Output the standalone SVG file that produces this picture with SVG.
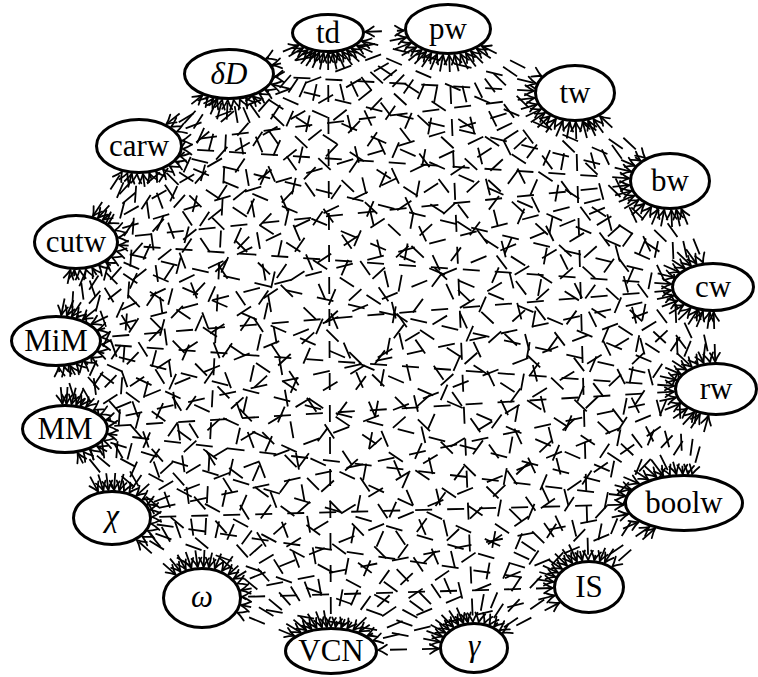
<svg xmlns="http://www.w3.org/2000/svg" width="758" height="677" viewBox="0 0 758 677">
<defs>
<marker id="a" viewBox="-12 -7 14 14" refX="0" refY="0" markerWidth="14" markerHeight="14" markerUnits="userSpaceOnUse" orient="auto-start-reverse" overflow="visible">
<path d="M-9,-5 Q-3.8,-1.3 0,0 Q-3.8,1.3 -9,5" fill="none" stroke="#000" stroke-width="1.8" stroke-linecap="round" stroke-linejoin="round"/>
</marker>
<style>
.e line{stroke:#000;stroke-width:1.8;stroke-dasharray:17 15;fill:none;marker-start:url(#a);marker-end:url(#a)}
.n ellipse{fill:#fff;stroke:#000;stroke-width:3}
.n text{font-family:'Liberation Serif','DejaVu Serif',serif;font-size:31px;text-anchor:middle;fill:#000}
.n text.m{font-style:italic}
</style>
</defs>
<rect width="758" height="677" fill="#fff"/>
<g id="connectors" class="e">
<line x1="364.9" y1="31.8" x2="404.1" y2="30.5"/>
<line x1="361.7" y1="41.2" x2="536.2" y2="83.6"/>
<line x1="356.9" y1="45.5" x2="635.0" y2="165.9"/>
<line x1="351.4" y1="48.5" x2="684.9" y2="268.4"/>
<line x1="346.8" y1="50.2" x2="691.9" y2="366.9"/>
<line x1="342.0" y1="51.5" x2="663.4" y2="475.8"/>
<line x1="337.1" y1="52.4" x2="577.0" y2="561.5"/>
<line x1="332.7" y1="52.8" x2="467.9" y2="622.4"/>
<line x1="328.1" y1="53" x2="330.9" y2="627"/>
<line x1="323.6" y1="52.9" x2="208.8" y2="567.5"/>
<line x1="319.3" y1="52.4" x2="123.9" y2="491.3"/>
<line x1="315.5" y1="51.8" x2="80.5" y2="405.6"/>
<line x1="312.1" y1="51.0" x2="76.5" y2="317.7"/>
<line x1="307.8" y1="49.8" x2="102.6" y2="220.0"/>
<line x1="303.2" y1="47.8" x2="171.1" y2="126.8"/>
<line x1="298.6" y1="45.2" x2="266.1" y2="58.6"/>
<line x1="481.5" y1="45.9" x2="541.6" y2="76.2"/>
<line x1="476.7" y1="48.7" x2="640.5" y2="160.8"/>
<line x1="470.8" y1="51.2" x2="691.1" y2="265.7"/>
<line x1="465.7" y1="52.8" x2="697.9" y2="364.6"/>
<line x1="460.4" y1="53.9" x2="670.0" y2="474.8"/>
<line x1="454.5" y1="54.7" x2="582.3" y2="560.5"/>
<line x1="449.1" y1="55.0" x2="472.9" y2="622.0"/>
<line x1="443.1" y1="54.8" x2="335.5" y2="627.1"/>
<line x1="437.1" y1="54.2" x2="214.7" y2="568.6"/>
<line x1="431.4" y1="53.1" x2="129.3" y2="492.8"/>
<line x1="426.3" y1="51.6" x2="86.0" y2="407.0"/>
<line x1="421.8" y1="49.9" x2="82.6" y2="319.8"/>
<line x1="416.4" y1="47.1" x2="108.3" y2="223.5"/>
<line x1="411.0" y1="43.0" x2="176.8" y2="131.7"/>
<line x1="406.4" y1="37.5" x2="272.2" y2="65.1"/>
<line x1="599.9" y1="116.0" x2="645.1" y2="158.0"/>
<line x1="593.4" y1="118.9" x2="696.6" y2="264.0"/>
<line x1="588.1" y1="120.5" x2="703.7" y2="363.2"/>
<line x1="582.6" y1="121.5" x2="676.4" y2="474.2"/>
<line x1="575.8" y1="122.0" x2="588.2" y2="560.0"/>
<line x1="569.8" y1="121.8" x2="478.7" y2="622.2"/>
<line x1="562.9" y1="120.7" x2="341.2" y2="627.6"/>
<line x1="556.0" y1="118.7" x2="221.9" y2="571.1"/>
<line x1="550.0" y1="116.0" x2="136.3" y2="495.7"/>
<line x1="545.0" y1="112.8" x2="93.7" y2="410.1"/>
<line x1="541.0" y1="109.2" x2="91.1" y2="324.2"/>
<line x1="537.2" y1="104.3" x2="115.1" y2="230.3"/>
<line x1="534.6" y1="97.9" x2="182.2" y2="140.7"/>
<line x1="534.1" y1="90.8" x2="274.8" y2="76.5"/>
<line x1="681.3" y1="208.9" x2="703.1" y2="262.7"/>
<line x1="676.3" y1="209.7" x2="710.1" y2="362.3"/>
<line x1="671.3" y1="210.0" x2="682.7" y2="474.0"/>
<line x1="664.3" y1="209.7" x2="594.3" y2="560.3"/>
<line x1="658.3" y1="208.8" x2="484.4" y2="623.2"/>
<line x1="651.4" y1="206.8" x2="347.2" y2="628.5"/>
<line x1="644.5" y1="203.7" x2="228.3" y2="574.6"/>
<line x1="638.8" y1="199.8" x2="142.3" y2="499.7"/>
<line x1="634.5" y1="195.5" x2="100.7" y2="414.4"/>
<line x1="631.5" y1="191.0" x2="97.8" y2="330.1"/>
<line x1="629.4" y1="185.2" x2="118.5" y2="237.6"/>
<line x1="629.2" y1="178.3" x2="182.8" y2="148.9"/>
<line x1="631.2" y1="171.6" x2="271.3" y2="84.3"/>
<line x1="713.7" y1="312.0" x2="715.2" y2="362.0"/>
<line x1="709.7" y1="311.9" x2="687.9" y2="474.1"/>
<line x1="703.0" y1="311.3" x2="599.7" y2="561.2"/>
<line x1="697.6" y1="310.3" x2="489.4" y2="624.7"/>
<line x1="690.7" y1="308.2" x2="353.2" y2="629.9"/>
<line x1="683.6" y1="304.9" x2="233.5" y2="578.9"/>
<line x1="677.7" y1="300.6" x2="147.1" y2="504.5"/>
<line x1="673.6" y1="295.6" x2="106.1" y2="420.0"/>
<line x1="671.4" y1="290.4" x2="101.5" y2="337.3"/>
<line x1="671.3" y1="284.1" x2="118.7" y2="245.0"/>
<line x1="674.2" y1="277.5" x2="180.0" y2="156.1"/>
<line x1="679.2" y1="272.1" x2="265.3" y2="90.0"/>
<line x1="708.5" y1="415.6" x2="692.1" y2="474.3"/>
<line x1="700.0" y1="414.0" x2="604.6" y2="562.7"/>
<line x1="694.4" y1="412.1" x2="494.0" y2="626.6"/>
<line x1="687.2" y1="408.6" x2="359.2" y2="631.8"/>
<line x1="680.5" y1="403.4" x2="237.4" y2="583.6"/>
<line x1="676.1" y1="397.5" x2="150.3" y2="509.8"/>
<line x1="674.2" y1="391.6" x2="108.7" y2="426.3"/>
<line x1="674.3" y1="386.0" x2="101.6" y2="344.3"/>
<line x1="676.5" y1="379.9" x2="116.6" y2="251.3"/>
<line x1="680.9" y1="374.2" x2="175.7" y2="161.5"/>
<line x1="686.4" y1="369.9" x2="259.3" y2="93.6"/>
<line x1="655.2" y1="528.4" x2="612.3" y2="566.4"/>
<line x1="649.6" y1="526.8" x2="499.6" y2="630.3"/>
<line x1="638.7" y1="522.0" x2="367.3" y2="635.8"/>
<line x1="628.4" y1="514.0" x2="240.8" y2="590.4"/>
<line x1="624.1" y1="504.6" x2="152.0" y2="517.0"/>
<line x1="625.8" y1="496.0" x2="108.1" y2="434.1"/>
<line x1="631.1" y1="489.3" x2="97.8" y2="351.8"/>
<line x1="639.1" y1="483.7" x2="111.9" y2="257.4"/>
<line x1="648.4" y1="479.7" x2="169.7" y2="166.1"/>
<line x1="656.6" y1="477.2" x2="252.7" y2="96.3"/>
<line x1="559.6" y1="602.6" x2="502.5" y2="632.9"/>
<line x1="554.8" y1="595.5" x2="373.3" y2="640.5"/>
<line x1="553.0" y1="588.0" x2="242.0" y2="596.9"/>
<line x1="553.6" y1="581.9" x2="151.2" y2="523.7"/>
<line x1="555.6" y1="576.9" x2="103.9" y2="440.7"/>
<line x1="558.3" y1="572.8" x2="91.6" y2="357.4"/>
<line x1="562.2" y1="569.0" x2="105.9" y2="262.1"/>
<line x1="567.1" y1="565.6" x2="163.0" y2="169.5"/>
<line x1="572.2" y1="563.1" x2="246.0" y2="98.2"/>
<line x1="439.0" y1="648.7" x2="378.0" y2="650.0"/>
<line x1="440.0" y1="641.8" x2="240.9" y2="605.2"/>
<line x1="442.5" y1="636.7" x2="147.6" y2="530.8"/>
<line x1="445.6" y1="632.8" x2="97.0" y2="446.1"/>
<line x1="449.1" y1="629.7" x2="84.1" y2="361.6"/>
<line x1="453.4" y1="627.0" x2="99.1" y2="265.6"/>
<line x1="458.5" y1="624.7" x2="156.2" y2="171.8"/>
<line x1="463.4" y1="623.2" x2="239.8" y2="99.3"/>
<line x1="294.4" y1="636.0" x2="237.3" y2="612.5"/>
<line x1="300.8" y1="632.6" x2="142.2" y2="536.4"/>
<line x1="306.5" y1="630.5" x2="89.8" y2="449.7"/>
<line x1="311.6" y1="629.1" x2="76.6" y2="364.2"/>
<line x1="316.7" y1="628.1" x2="92.2" y2="267.9"/>
<line x1="322.0" y1="627.4" x2="149.3" y2="173.2"/>
<line x1="326.8" y1="627.1" x2="233.6" y2="99.9"/>
<line x1="175.7" y1="574.6" x2="136.8" y2="540.0"/>
<line x1="180.7" y1="571.8" x2="83.4" y2="451.7"/>
<line x1="185.9" y1="569.6" x2="70.1" y2="365.8"/>
<line x1="191.4" y1="568.1" x2="85.7" y2="269.3"/>
<line x1="197.7" y1="567.2" x2="142.9" y2="173.9"/>
<line x1="203.6" y1="567.0" x2="227.7" y2="100.0"/>
<line x1="98.1" y1="491.7" x2="77.6" y2="453.0"/>
<line x1="103.4" y1="490.7" x2="64.1" y2="366.6"/>
<line x1="108.4" y1="490.1" x2="79.6" y2="269.9"/>
<line x1="114.0" y1="490.0" x2="137.0" y2="174.0"/>
<line x1="119.3" y1="490.5" x2="222.2" y2="99.7"/>
<line x1="62.4" y1="404.0" x2="58.7" y2="367.0"/>
<line x1="66.5" y1="404.0" x2="74.4" y2="270.0"/>
<line x1="71.5" y1="404.3" x2="131.8" y2="173.6"/>
<line x1="76.2" y1="404.8" x2="217.4" y2="99.2"/>
<line x1="61.2" y1="315.2" x2="70.4" y2="269.8"/>
<line x1="66.8" y1="315.7" x2="127.5" y2="173.0"/>
<line x1="71.8" y1="316.6" x2="213.2" y2="98.4"/>
<line x1="92.9" y1="216.3" x2="122.0" y2="171.8"/>
<line x1="97.9" y1="217.9" x2="208.0" y2="97.1"/>
<line x1="166.4" y1="124.1" x2="202.5" y2="95.2"/>
</g>
<g id="nodes" class="n" font-family="Liberation Serif, DejaVu Serif, serif">
<g id="td"><ellipse cx="328" cy="33" rx="35.5" ry="18.5"/><text x="328" y="43">td</text></g>
<g id="pw"><ellipse cx="448" cy="29" rx="42.5" ry="24.5"/><text x="448" y="39">pw</text></g>
<g id="tw"><ellipse cx="575" cy="93" rx="39.5" ry="27.5"/><text x="575" y="103">tw</text></g>
<g id="bw"><ellipse cx="670" cy="181" rx="39.5" ry="27.5"/><text x="670" y="191">bw</text></g>
<g id="cw"><ellipse cx="713" cy="287" rx="40.5" ry="23.5"/><text x="713" y="297">cw</text></g>
<g id="rw"><ellipse cx="716" cy="389" rx="40.5" ry="25.5"/><text x="716" y="399">rw</text></g>
<g id="boolw"><ellipse cx="684" cy="503" rx="58.5" ry="27.5"/><text x="684" y="513">boolw</text></g>
<g id="IS"><ellipse cx="589" cy="587" rx="34.5" ry="25.5"/><text x="589" y="597">IS</text></g>
<g id="gamma"><ellipse cx="474" cy="648" rx="33.5" ry="24.5"/><text class="m" x="474" y="656">γ</text></g>
<g id="VCN"><ellipse cx="331" cy="651" rx="45.5" ry="22.5"/><text x="331" y="661">VCN</text></g>
<g id="omega"><ellipse cx="202" cy="598" rx="38.5" ry="29.5"/><text class="m" x="202" y="607">ω</text></g>
<g id="chi"><ellipse cx="112" cy="518" rx="38.5" ry="26.5"/><text class="m" x="112" y="526">χ</text></g>
<g id="MM"><ellipse cx="65" cy="429" rx="42.5" ry="23.5"/><text x="65" y="439">MM</text></g>
<g id="MiM"><ellipse cx="56" cy="341" rx="44.5" ry="24.5"/><text x="56" y="351">MiM</text></g>
<g id="cutw"><ellipse cx="76" cy="242" rx="41.5" ry="26.5"/><text x="76" y="252">cutw</text></g>
<g id="carw"><ellipse cx="139" cy="146" rx="42.5" ry="26.5"/><text x="139" y="156">carw</text></g>
<g id="deltaD"><ellipse cx="229" cy="74" rx="44.5" ry="24.5"/><text class="m" x="229" y="84">δD</text></g>
</g>
</svg>
